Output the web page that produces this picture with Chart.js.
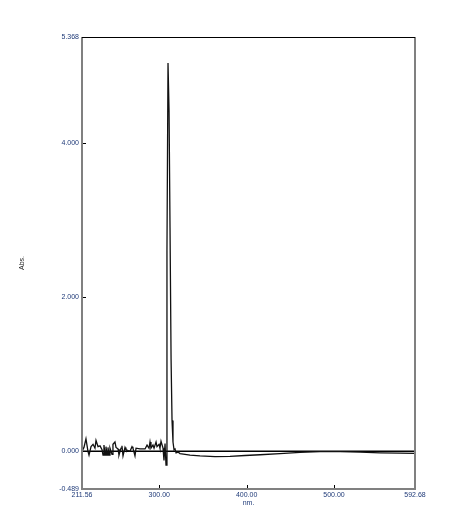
<!DOCTYPE html>
<html>
<head>
<meta charset="utf-8">
<script src="https://cdn.jsdelivr.net/npm/chart.js@4.4.1/dist/chart.umd.min.js"></script>
<style>
  html, body { margin: 0; padding: 0; background: #fff; }
  #wrap { width: 455px; height: 507px; }
</style>
</head>
<body>
<div id="wrap"><canvas id="myChart" width="455" height="507"></canvas></div>
<script>
// wavelength (nm) and absorbance
const wavelength = [211.6, 213.8, 216.1, 218.4, 219.6, 221.9, 224.2, 226.4, 227.6, 229.9,
    232.2, 234.5, 235.6, 236.7, 237.9, 239.0, 240.2, 241.3, 242.5, 243.6,
    245.9, 247.0, 249.3, 250.5, 252.8, 253.9, 256.2, 257.3, 258.5, 260.8,
    261.9, 264.2, 266.5, 268.8, 269.9, 272.2, 273.4, 278.0, 283.7, 286.0,
    287.1, 288.3, 289.4, 290.5, 292.8, 294.0, 296.3, 297.4, 299.7, 300.8,
    302.0, 304.3, 305.4, 306.6, 307.7, 308.8, 310.0, 311.2, 312.3, 313.5,
    314.6, 315.7, 316.9, 318.0, 319.2, 321.5, 323.7, 329.5, 335.2, 346.6,
    363.8, 381.0, 398.1, 415.3, 438.2, 461.1, 484.0, 506.9, 529.8, 552.7,
    575.6, 592.7];
const absorbance = [0.00, 0.05, 0.16, 0.00, -0.05, 0.06, 0.09, 0.04, 0.14, 0.06,
    0.07, 0.02, -0.05, 0.08, -0.05, 0.06, -0.05, 0.05, -0.05, 0.04,
    -0.04, 0.09, 0.12, 0.05, 0.03, -0.05, 0.04, 0.07, -0.06, 0.05,
    0.02, 0.01, 0.00, 0.06, 0.04, -0.06, 0.04, 0.03, 0.03, 0.08,
    0.06, 0.04, 0.12, 0.04, 0.08, 0.04, 0.12, 0.06, 0.09, 0.04,
    0.13, 0.04, -0.12, 0.10, -0.18, 2.60, 5.03, 4.40, 2.90, 1.20,
    0.40, 0.12, 0.02, 0.03, -0.02, -0.01, -0.03, -0.04, -0.05, -0.06,
    -0.07, -0.065, -0.055, -0.045, -0.03, -0.015, -0.005, -0.005, -0.01, -0.02,
    -0.025, -0.028];
// zero reference line
const baseX = [211.56, 592.68];
const baseY = [0, 0];

const xTicks = [211.56, 300, 400, 500, 592.68];
const yTicks = [-0.489, 0, 2, 4, 5.368];
const xMin = 211.56, xMax = 592.68, yMin = -0.489, yMax = 5.368;

const labelFont = { family: 'Liberation Sans', size: 7 };
const labelColor = '#1f3a78';

// frame + inward tick marks
const framePlugin = {
    id: 'frame',
    afterDraw(chart) {
        const { ctx, chartArea: a, scales } = chart;
        ctx.save();
        ctx.strokeStyle = '#000';
        ctx.lineWidth = 1;
        xTicks.forEach(v => {
            const px = Math.round(scales.x.getPixelForValue(v)) + 0.5;
            ctx.beginPath(); ctx.moveTo(px, a.bottom); ctx.lineTo(px, a.bottom - 4); ctx.stroke();
        });
        yTicks.forEach(v => {
            const py = Math.round(scales.y.getPixelForValue(v)) + 0.5;
            ctx.beginPath(); ctx.moveTo(a.left, py); ctx.lineTo(a.left + 4, py); ctx.stroke();
        });
        ctx.strokeStyle = '#808080';
        ctx.lineWidth = 2;
        ctx.beginPath();
        ctx.moveTo(a.left, a.top); ctx.lineTo(a.left, a.bottom);
        ctx.lineTo(a.right, a.bottom); ctx.lineTo(a.right, a.top);
        ctx.stroke();
        ctx.strokeStyle = '#000';
        ctx.lineWidth = 1;
        ctx.beginPath();
        ctx.moveTo(a.left, a.top + 0.5); ctx.lineTo(a.right, a.top + 0.5);
        ctx.stroke();
        ctx.restore();
    }
};

var ctx = document.getElementById('myChart');
var chart = new Chart(ctx, {
    type: 'scatter',
    data: {
        datasets: [
            {
                label: 'Abs.',
                data: wavelength.map((w, i) => ({ x: w, y: absorbance[i] })),
                showLine: true,
                borderColor: '#111',
                borderWidth: 1.3,
                pointRadius: 0,
                tension: 0
            },
            {
                label: 'zero',
                data: baseX.map((w, i) => ({ x: w, y: baseY[i] })),
                showLine: true,
                borderColor: '#000',
                borderWidth: 1.6,
                pointRadius: 0,
                tension: 0
            }
        ]
    },
    options: {
        responsive: false,
        animation: false,
        layout: { padding: { top: 37, right: 40, left: 0, bottom: 0 } },
        scales: {
            x: {
                type: 'linear',
                min: xMin,
                max: xMax,
                afterFit: s => { s.height = 18; },
                afterBuildTicks: s => { s.ticks = xTicks.map(v => ({ value: v })); },
                grid: { display: false, drawTicks: false },
                border: { display: false },
                ticks: {
                    padding: 2,
                    maxRotation: 0,
                    autoSkip: false,
                    font: labelFont,
                    color: labelColor,
                    callback: v => v.toFixed(2)
                },
                title: {
                    display: true,
                    text: 'nm.',
                    font: labelFont,
                    color: labelColor,
                    padding: 0
                }
            },
            y: {
                min: yMin,
                max: yMax,
                afterFit: s => { s.width = 82; },
                afterBuildTicks: s => { s.ticks = yTicks.map(v => ({ value: v })); },
                grid: { display: false, drawTicks: false },
                border: { display: false },
                ticks: {
                    padding: 3,
                    autoSkip: false,
                    font: labelFont,
                    color: labelColor,
                    callback: v => v.toFixed(3)
                },
                title: {
                    display: true,
                    text: 'Abs.',
                    font: labelFont,
                    color: '#222',
                    padding: { top: 18, bottom: 0 }
                }
            }
        },
        plugins: {
            legend: { display: false },
            tooltip: { enabled: false }
        }
    },
    plugins: [framePlugin]
});
</script>
</body>
</html>
